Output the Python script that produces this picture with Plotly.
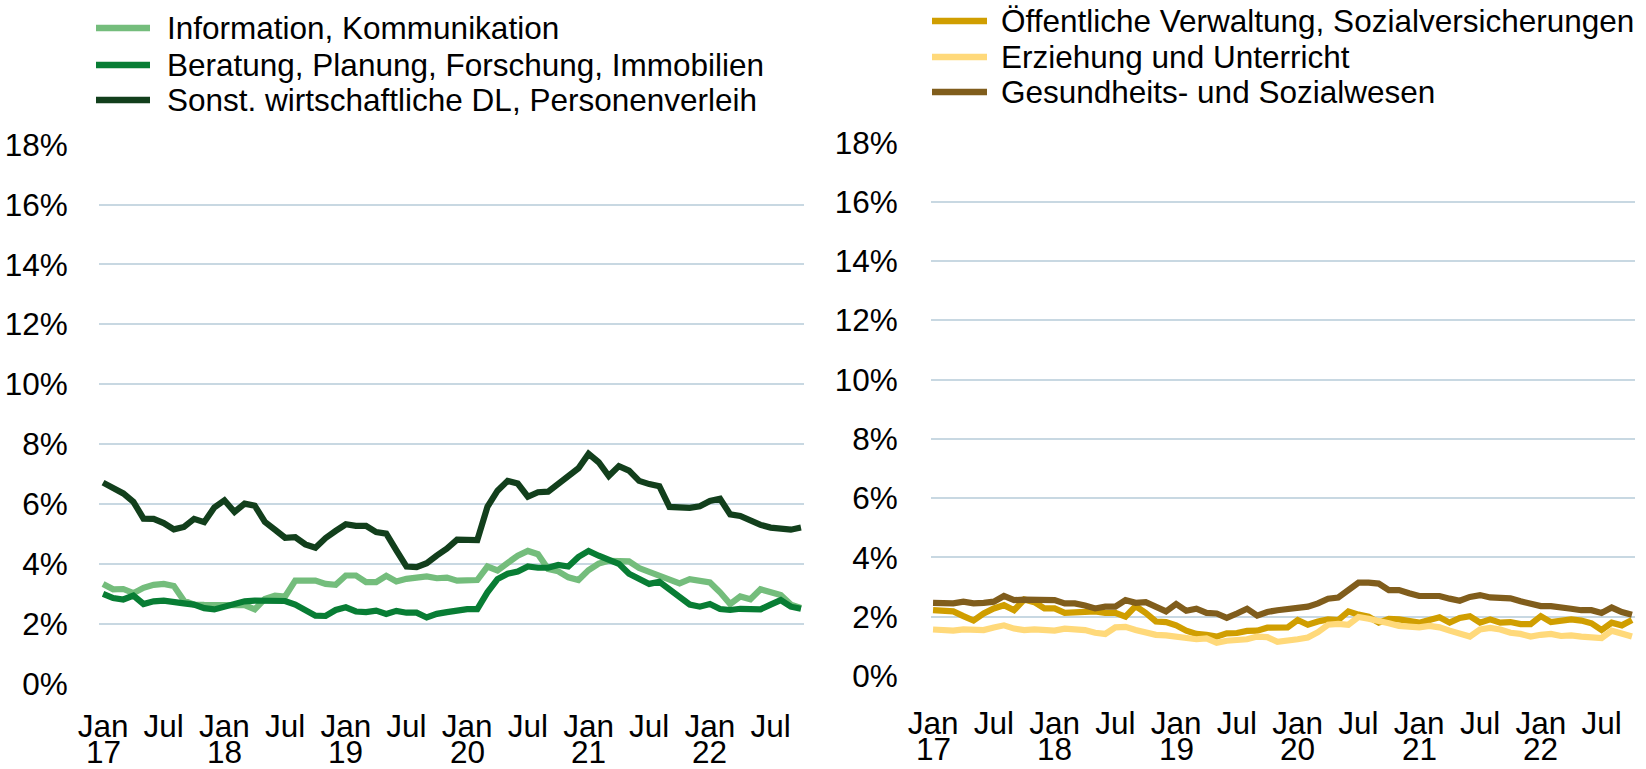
import plotly.graph_objects as go

# Monthly shares in percent, Jan 2017 .. Oct 2022 (70 months)
months = list(range(70))

# Left panel series
info_komm = [3.34, 3.16, 3.17, 3.03, 3.21, 3.31, 3.34, 3.27, 2.78, 2.65,
             2.64, 2.64, 2.64, 2.63, 2.63, 2.49, 2.84, 2.95, 2.92, 3.45,
             3.45, 3.45, 3.34, 3.31, 3.62, 3.62, 3.40, 3.40, 3.61, 3.42,
             3.51, 3.54, 3.59, 3.53, 3.55, 3.45, 3.47, 3.47, 3.92, 3.79,
             4.04, 4.28, 4.44, 4.33, 3.84, 3.76, 3.56, 3.47, 3.80, 4.02,
             4.11, 4.09, 4.09, 3.87, 3.73, 3.61, 3.47, 3.36, 3.50, 3.47,
             3.39, 3.06, 2.67, 2.92, 2.83, 3.16, 3.07, 2.97, 2.65, 2.54]
beratung = [3.01, 2.87, 2.82, 2.95, 2.67, 2.76, 2.78, 2.76, 2.69, 2.65,
            2.53, 2.49, 2.58, 2.65, 2.76, 2.78, 2.78, 2.78, 2.77, 2.65,
            2.45, 2.28, 2.27, 2.47, 2.56, 2.42, 2.40, 2.45, 2.34, 2.44,
            2.38, 2.38, 2.22, 2.34, 2.40, 2.47, 2.50, 2.50, 3.06, 3.50,
            3.68, 3.75, 3.92, 3.88, 3.88, 3.97, 3.92, 4.24, 4.44, 4.28,
            4.13, 4.01, 3.68, 3.51, 3.34, 3.41, 3.14, 2.87, 2.65, 2.58,
            2.67, 2.50, 2.47, 2.51, 2.51, 2.49, 2.65, 2.80, 2.58, 2.51]
sonst_dl = [6.72, 6.55, 6.36, 6.08, 5.52, 5.51, 5.37, 5.16, 5.24, 5.51,
            5.40, 5.89, 6.13, 5.74, 6.02, 5.95, 5.41, 5.15, 4.88, 4.90,
            4.66, 4.55, 4.87, 5.11, 5.33, 5.28, 5.28, 5.07, 5.02, 4.46,
            3.92, 3.90, 4.03, 4.29, 4.52, 4.82, 4.80, 4.80, 5.91, 6.45,
            6.78, 6.69, 6.25, 6.40, 6.42, 6.67, 6.89, 7.20, 7.68, 7.40,
            6.94, 7.27, 7.12, 6.78, 6.67, 6.60, 5.91, 5.89, 5.88, 5.93,
            6.11, 6.18, 5.66, 5.61, 5.44, 5.31, 5.22, 5.20, 5.15, 5.22]

# Right panel series
oeff_verw = [2.22, 2.22, 2.18, 2.02, 1.87, 2.11, 2.28, 2.39, 2.22, 2.58,
             2.49, 2.28, 2.28, 2.13, 2.16, 2.20, 2.18, 2.13, 2.13, 2.00,
             2.36, 2.13, 1.84, 1.82, 1.71, 1.53, 1.42, 1.39, 1.33, 1.44,
             1.45, 1.52, 1.53, 1.63, 1.64, 1.64, 1.89, 1.73, 1.84, 1.91,
             1.89, 2.18, 2.07, 2.00, 1.80, 1.93, 1.91, 1.87, 1.80, 1.89,
             1.98, 1.80, 1.96, 2.02, 1.80, 1.91, 1.80, 1.82, 1.75, 1.75,
             2.02, 1.82, 1.87, 1.91, 1.87, 1.78, 1.55, 1.80, 1.71, 1.89]
erziehung = [1.57, 1.53, 1.53, 1.57, 1.55, 1.55, 1.64, 1.71, 1.60, 1.55,
             1.57, 1.55, 1.53, 1.60, 1.60, 1.55, 1.46, 1.42, 1.64, 1.66,
             1.55, 1.46, 1.39, 1.37, 1.33, 1.26, 1.24, 1.27, 1.12, 1.19,
             1.19, 1.24, 1.33, 1.31, 1.15, 1.17, 1.24, 1.30, 1.48, 1.73,
             1.76, 1.73, 1.99, 1.93, 1.88, 1.78, 1.69, 1.64, 1.64, 1.69,
             1.64, 1.53, 1.44, 1.33, 1.57, 1.62, 1.57, 1.46, 1.42, 1.33,
             1.39, 1.42, 1.35, 1.37, 1.33, 1.28, 1.28, 1.53, 1.44, 1.33]
gesundheit = [2.47, 2.45, 2.45, 2.51, 2.45, 2.47, 2.51, 2.70, 2.56, 2.58,
              2.56, 2.58, 2.56, 2.45, 2.45, 2.38, 2.28, 2.34, 2.34, 2.56,
              2.47, 2.49, 2.34, 2.18, 2.43, 2.20, 2.27, 2.13, 2.11, 1.96,
              2.11, 2.27, 2.04, 2.16, 2.22, 2.25, 2.29, 2.34, 2.45, 2.61,
              2.65, 2.88, 3.15, 3.15, 3.12, 2.90, 2.90, 2.79, 2.70, 2.70,
              2.70, 2.61, 2.54, 2.67, 2.73, 2.65, 2.63, 2.62, 2.52, 2.45,
              2.36, 2.36, 2.29, 2.27, 2.22, 2.22, 2.13, 2.31, 2.16, 2.07]

# Axis labels
tick_positions = [0, 6, 12, 18, 24, 30, 36, 42, 48, 54, 60, 66]
tick_text = ["Jan", "Jul"] * 6
year_positions = [0, 12, 24, 36, 48, 60]
year_text = ["17", "18", "19", "20", "21", "22"]
y_ticks = [0, 2, 4, 6, 8, 10, 12, 14, 16, 18]
y_text = [f"{v}%" for v in y_ticks]

left_series = [
    ("Information, Kommunikation", info_komm, "#74BD7C"),
    ("Beratung, Planung, Forschung, Immobilien", beratung, "#087D34"),
    ("Sonst. wirtschaftliche DL, Personenverleih", sonst_dl, "#123F1C"),
]
right_series = [
    ("Öffentliche Verwaltung, Sozialversicherungen", oeff_verw, "#D09E00"),
    ("Erziehung und Unterricht", erziehung, "#FFD97A"),
    ("Gesundheits- und Sozialwesen", gesundheit, "#805D1C"),
]

W, H = 1646, 769
FONT = "Arial, Liberation Sans, sans-serif"
FS = 31.5
GRID = "#C8D8E2"
LW = 6.2


def px(x):
    return x / W


def py(y):
    return 1 - y / H


fig = go.Figure()

for name, vals, color in left_series:
    fig.add_trace(go.Scatter(x=months, y=vals, name=name, mode="lines",
                             line=dict(color=color, width=LW),
                             xaxis="x", yaxis="y", showlegend=False))
for name, vals, color in right_series:
    fig.add_trace(go.Scatter(x=months, y=vals, name=name, mode="lines",
                             line=dict(color=color, width=LW),
                             xaxis="x2", yaxis="y2", showlegend=False))

xcommon = dict(tickmode="array", tickvals=tick_positions, ticktext=tick_text,
               showgrid=False, zeroline=False, showline=False, automargin=False,
               ticks="outside", tickcolor="rgba(0,0,0,0)",
               tickfont=dict(family=FONT, size=FS, color="#000000"))
ycommon = dict(tickmode="array", tickvals=y_ticks, ticktext=y_text,
               range=[0, 18.02], showgrid=True, gridcolor=GRID, gridwidth=1.5,
               zeroline=False, showline=False, automargin=False,
               ticks="outside", tickcolor="rgba(0,0,0,0)",
               tickfont=dict(family=FONT, size=FS, color="#000000"))

fig.update_layout(
    width=W, height=H, autosize=False,
    margin=dict(l=0, r=0, t=0, b=0, pad=0),
    paper_bgcolor="white", plot_bgcolor="white",
    font=dict(family=FONT, size=FS, color="#000000"),
    xaxis=dict(xcommon, domain=[px(99), px(804)], range=[-0.4, 69.3],
               anchor="y", ticklen=14),
    yaxis=dict(ycommon, domain=[py(684), py(144)], anchor="x", ticklen=24),
    xaxis2=dict(xcommon, domain=[px(931), px(1635)], range=[-0.2, 69.3],
                anchor="y2", ticklen=19),
    yaxis2=dict(ycommon, domain=[py(676), py(142)], anchor="x2", ticklen=26),
)

annotations = []
shapes = []

# Year labels under the January ticks
for pos, txt in zip(year_positions, year_text):
    annotations.append(dict(x=pos, xref="x", y=py(751.5), yref="paper",
                            text=txt, showarrow=False, xanchor="center",
                            yanchor="middle",
                            font=dict(family=FONT, size=FS, color="#000000")))
    annotations.append(dict(x=pos, xref="x2", y=py(749), yref="paper",
                            text=txt, showarrow=False, xanchor="center",
                            yanchor="middle",
                            font=dict(family=FONT, size=FS, color="#000000")))

# Legend entries
legend_rows = [
    (left_series, 96, 150, 165, [28, 65, 100]),
    (right_series, 932, 987, 999, [21, 57, 92]),
]
for series, x0, x1, xt, rows in legend_rows:
    for (name, _, color), yy in zip(series, rows):
        shapes.append(dict(type="line", xref="paper", yref="paper",
                           x0=px(x0), x1=px(x1), y0=py(yy), y1=py(yy),
                           line=dict(color=color, width=6.5)))
        annotations.append(dict(x=px(xt), y=py(yy), xref="paper", yref="paper",
                                text=name, showarrow=False, xanchor="left",
                                yanchor="middle",
                                font=dict(family=FONT, size=FS, color="#000000")))

fig.update_layout(annotations=annotations, shapes=shapes)

fig.write_html("out.html")
